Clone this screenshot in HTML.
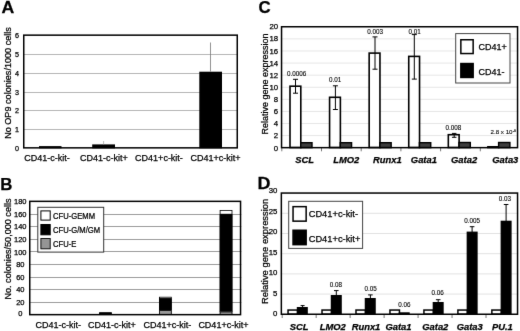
<!DOCTYPE html>
<html><head><meta charset="utf-8"><style>
html,body{margin:0;padding:0;background:#fff;}
svg{display:block;font-family:"Liberation Sans", sans-serif;}
text{stroke:#000;stroke-width:0.25px;}
</style></head><body>
<svg width="520" height="331" viewBox="0 0 520 331">
<defs><filter id="bl" color-interpolation-filters="sRGB" x="0" y="0" width="520" height="331" filterUnits="userSpaceOnUse"><feConvolveMatrix order="3" kernelMatrix="0.0049 0.0602 0.0049 0.0602 0.7396 0.0602 0.0049 0.0602 0.0049" edgeMode="duplicate"/></filter></defs>
<g filter="url(#bl)">
<rect x="0" y="0" width="520" height="331" fill="#fff"/>
<text transform="translate(1.6 13.0) scale(1.05 1)" font-size="16.8" font-weight="bold">A</text>
<line x1="23.0" y1="129.5" x2="238.0" y2="129.5" stroke="#b6b6b6" stroke-width="1"/>
<line x1="23.0" y1="110.5" x2="238.0" y2="110.5" stroke="#b6b6b6" stroke-width="1"/>
<line x1="23.0" y1="92.5" x2="238.0" y2="92.5" stroke="#b6b6b6" stroke-width="1"/>
<line x1="23.0" y1="73.5" x2="238.0" y2="73.5" stroke="#b6b6b6" stroke-width="1"/>
<line x1="23.0" y1="54.5" x2="238.0" y2="54.5" stroke="#b6b6b6" stroke-width="1"/>
<rect x="39.00" y="146.10" width="22.50" height="2.20" fill="#000"/>
<rect x="92.20" y="144.40" width="22.80" height="3.90" fill="#000"/>
<rect x="199.30" y="71.70" width="22.70" height="76.60" fill="#000"/>
<line x1="103.6" y1="141.0" x2="103.6" y2="144.4" stroke="#aaa" stroke-width="0.8"/>
<line x1="210.5" y1="42.5" x2="210.5" y2="71.7" stroke="#777" stroke-width="0.8"/>
<rect x="23.75" y="35.15" width="213.50" height="112.70" fill="none" stroke="#000" stroke-width="1.5"/>
<text x="19.0" y="150.9" font-size="7.2" text-anchor="end" fill="#000">0</text>
<text x="19.0" y="132.1" font-size="7.2" text-anchor="end" fill="#000">1</text>
<text x="19.0" y="113.30000000000001" font-size="7.2" text-anchor="end" fill="#000">2</text>
<text x="19.0" y="94.5" font-size="7.2" text-anchor="end" fill="#000">3</text>
<text x="19.0" y="75.7" font-size="7.2" text-anchor="end" fill="#000">4</text>
<text x="19.0" y="56.90000000000001" font-size="7.2" text-anchor="end" fill="#000">5</text>
<text x="19.0" y="38.1" font-size="7.2" text-anchor="end" fill="#000">6</text>
<text x="10.9" y="83" font-size="9.1" text-anchor="middle" fill="#000" transform="rotate(-90 10.9 83)">No OP9 colonies/1000 cells</text>
<text x="47" y="160.6" font-size="9.0" text-anchor="middle" fill="#000">CD41-c-kit-</text>
<text x="103.9" y="160.6" font-size="9.0" text-anchor="middle" fill="#000">CD41-c-kit+</text>
<text x="159" y="160.6" font-size="9.0" text-anchor="middle" fill="#000">CD41+c-kit-</text>
<text x="215.5" y="160.6" font-size="9.0" text-anchor="middle" fill="#000">CD41+c-kit+</text>
<text transform="translate(0.2 189.7) scale(1.0 1)" font-size="16.8" font-weight="bold">B</text>
<line x1="29.0" y1="302.5" x2="241.3" y2="302.5" stroke="#9c9c9c" stroke-width="1"/>
<line x1="29.0" y1="289.5" x2="241.3" y2="289.5" stroke="#9c9c9c" stroke-width="1"/>
<line x1="29.0" y1="277.5" x2="241.3" y2="277.5" stroke="#9c9c9c" stroke-width="1"/>
<line x1="29.0" y1="264.5" x2="241.3" y2="264.5" stroke="#9c9c9c" stroke-width="1"/>
<line x1="29.0" y1="251.5" x2="241.3" y2="251.5" stroke="#9c9c9c" stroke-width="1"/>
<line x1="29.0" y1="239.5" x2="241.3" y2="239.5" stroke="#9c9c9c" stroke-width="1"/>
<line x1="29.0" y1="226.5" x2="241.3" y2="226.5" stroke="#9c9c9c" stroke-width="1"/>
<line x1="29.0" y1="214.5" x2="241.3" y2="214.5" stroke="#9c9c9c" stroke-width="1"/>
<rect x="99.20" y="312.40" width="12.50" height="2.40" fill="#000"/>
<rect x="99.60" y="312.80" width="11.70" height="1.60" fill="none" stroke="#000" stroke-width="0.8"/>
<rect x="159.00" y="296.80" width="12.70" height="2.20" fill="#fff"/>
<rect x="159.40" y="297.20" width="11.90" height="1.40" fill="none" stroke="#000" stroke-width="0.8"/>
<rect x="159.00" y="298.60" width="12.70" height="12.00" fill="#000"/>
<rect x="159.40" y="299.00" width="11.90" height="11.20" fill="none" stroke="#000" stroke-width="0.8"/>
<rect x="159.00" y="310.20" width="12.70" height="4.60" fill="#999"/>
<rect x="159.40" y="310.60" width="11.90" height="3.80" fill="none" stroke="#000" stroke-width="0.8"/>
<rect x="219.70" y="210.10" width="12.70" height="4.50" fill="#fff"/>
<rect x="220.10" y="210.50" width="11.90" height="3.70" fill="none" stroke="#000" stroke-width="0.8"/>
<rect x="219.70" y="214.20" width="12.70" height="97.80" fill="#000"/>
<rect x="220.10" y="214.60" width="11.90" height="97.00" fill="none" stroke="#000" stroke-width="0.8"/>
<rect x="219.70" y="311.60" width="12.70" height="3.20" fill="#999"/>
<rect x="220.10" y="312.00" width="11.90" height="2.40" fill="none" stroke="#000" stroke-width="0.8"/>
<rect x="29.75" y="201.35" width="210.80" height="113.30" fill="none" stroke="#000" stroke-width="1.5"/>
<rect x="37.80" y="207.30" width="65.90" height="44.80" fill="#fff" stroke="#333" stroke-width="1.0"/>
<rect x="40.90" y="210.90" width="9.30" height="9.20" fill="#fff" stroke="#000" stroke-width="1.0"/>
<rect x="40.90" y="224.50" width="9.30" height="10.30" fill="#000" stroke="#000" stroke-width="1.0"/>
<rect x="40.90" y="238.50" width="9.30" height="10.30" fill="#959595" stroke="#111" stroke-width="1.0"/>
<text transform="translate(53.0 219.4) scale(0.9 1)" font-size="8.5">CFU-GEMM</text>
<text transform="translate(53.0 233.3) scale(0.9 1)" font-size="8.5">CFU-G/M/GM</text>
<text transform="translate(53.0 247.3) scale(0.9 1)" font-size="8.5">CFU-E</text>
<text x="20.3" y="316.2" font-size="7.5" text-anchor="middle" fill="#000">0</text>
<text x="20.3" y="304.9" font-size="7.5" text-anchor="middle" fill="#000">20</text>
<text x="20.3" y="292.3" font-size="7.5" text-anchor="middle" fill="#000">40</text>
<text x="20.3" y="279.7" font-size="7.5" text-anchor="middle" fill="#000">60</text>
<text x="20.3" y="267.1" font-size="7.5" text-anchor="middle" fill="#000">80</text>
<text x="20.3" y="254.5" font-size="7.5" text-anchor="middle" fill="#000">100</text>
<text x="20.3" y="241.9" font-size="7.5" text-anchor="middle" fill="#000">120</text>
<text x="20.3" y="229.3" font-size="7.5" text-anchor="middle" fill="#000">140</text>
<text x="20.3" y="216.7" font-size="7.5" text-anchor="middle" fill="#000">160</text>
<text x="20.3" y="204.1" font-size="7.5" text-anchor="middle" fill="#000">180</text>
<text x="11.1" y="249" font-size="9.1" text-anchor="middle" fill="#000" transform="rotate(-90 11.1 249)">No. colonies/50,000 cells</text>
<text x="58.3" y="327.9" font-size="9.0" text-anchor="middle" fill="#000">CD41-c-kit-</text>
<text x="112" y="327.9" font-size="9.0" text-anchor="middle" fill="#000">CD41-c-kit+</text>
<text x="167.3" y="327.9" font-size="9.0" text-anchor="middle" fill="#000">CD41+c-kit-</text>
<text x="223.4" y="327.9" font-size="9.0" text-anchor="middle" fill="#000">CD41+c-kit+</text>
<text transform="translate(258.6 13.3) scale(1.0 1)" font-size="16.8" font-weight="bold">C</text>
<line x1="280.8" y1="135.60999999999999" x2="518.3" y2="135.60999999999999" stroke="#e6e6e6" stroke-width="1"/>
<line x1="280.8" y1="123.51999999999998" x2="518.3" y2="123.51999999999998" stroke="#e6e6e6" stroke-width="1"/>
<line x1="280.8" y1="111.42999999999999" x2="518.3" y2="111.42999999999999" stroke="#e6e6e6" stroke-width="1"/>
<line x1="280.8" y1="99.33999999999999" x2="518.3" y2="99.33999999999999" stroke="#e6e6e6" stroke-width="1"/>
<line x1="280.8" y1="87.24999999999999" x2="518.3" y2="87.24999999999999" stroke="#e6e6e6" stroke-width="1"/>
<line x1="280.8" y1="75.16" x2="518.3" y2="75.16" stroke="#e6e6e6" stroke-width="1"/>
<line x1="280.8" y1="63.06999999999999" x2="518.3" y2="63.06999999999999" stroke="#e6e6e6" stroke-width="1"/>
<line x1="280.8" y1="50.97999999999999" x2="518.3" y2="50.97999999999999" stroke="#e6e6e6" stroke-width="1"/>
<line x1="280.8" y1="38.889999999999986" x2="518.3" y2="38.889999999999986" stroke="#e6e6e6" stroke-width="1"/>
<rect x="290.00" y="86.20" width="10.80" height="61.30" fill="#fff" stroke="#000" stroke-width="1.6"/>
<rect x="300.70" y="142.70" width="11.30" height="4.90" fill="#3d3d3d" stroke="#000" stroke-width="1.4"/>
<rect x="329.58" y="97.30" width="10.80" height="50.20" fill="#fff" stroke="#000" stroke-width="1.6"/>
<rect x="340.28" y="142.70" width="11.30" height="4.90" fill="#3d3d3d" stroke="#000" stroke-width="1.4"/>
<rect x="369.16" y="53.10" width="10.80" height="94.40" fill="#fff" stroke="#000" stroke-width="1.6"/>
<rect x="379.86" y="142.70" width="11.30" height="4.90" fill="#3d3d3d" stroke="#000" stroke-width="1.4"/>
<rect x="408.74" y="56.40" width="10.80" height="91.10" fill="#fff" stroke="#000" stroke-width="1.6"/>
<rect x="419.44" y="142.70" width="11.30" height="4.90" fill="#3d3d3d" stroke="#000" stroke-width="1.4"/>
<rect x="448.32" y="134.70" width="10.80" height="12.80" fill="#fff" stroke="#000" stroke-width="1.6"/>
<rect x="459.02" y="142.50" width="11.30" height="5.10" fill="#3d3d3d" stroke="#000" stroke-width="1.4"/>
<rect x="487.90" y="146.80" width="10.80" height="0.70" fill="#fff" stroke="#000" stroke-width="1.6"/>
<rect x="498.60" y="142.50" width="11.30" height="5.10" fill="#3d3d3d" stroke="#000" stroke-width="1.4"/>
<line x1="295.5" y1="79.3" x2="295.5" y2="93.2" stroke="#000" stroke-width="1"/>
<line x1="293.0" y1="79.3" x2="298.0" y2="79.3" stroke="#000" stroke-width="1"/>
<line x1="293.0" y1="93.2" x2="298.0" y2="93.2" stroke="#000" stroke-width="1"/>
<line x1="335.4" y1="85.8" x2="335.4" y2="109.5" stroke="#000" stroke-width="1"/>
<line x1="332.9" y1="85.8" x2="337.9" y2="85.8" stroke="#000" stroke-width="1"/>
<line x1="332.9" y1="109.5" x2="337.9" y2="109.5" stroke="#000" stroke-width="1"/>
<line x1="375.0" y1="36.9" x2="375.0" y2="69.2" stroke="#000" stroke-width="1"/>
<line x1="372.5" y1="36.9" x2="377.5" y2="36.9" stroke="#000" stroke-width="1"/>
<line x1="372.5" y1="69.2" x2="377.5" y2="69.2" stroke="#000" stroke-width="1"/>
<line x1="414.3" y1="34.6" x2="414.3" y2="79.1" stroke="#000" stroke-width="1"/>
<line x1="411.8" y1="34.6" x2="416.8" y2="34.6" stroke="#000" stroke-width="1"/>
<line x1="411.8" y1="79.1" x2="416.8" y2="79.1" stroke="#000" stroke-width="1"/>
<line x1="454.2" y1="133.4" x2="454.2" y2="137.3" stroke="#000" stroke-width="1"/>
<line x1="451.95" y1="133.4" x2="456.45" y2="133.4" stroke="#000" stroke-width="1"/>
<line x1="451.95" y1="137.3" x2="456.45" y2="137.3" stroke="#000" stroke-width="1"/>
<line x1="281.8" y1="147.7" x2="281.8" y2="151.3" stroke="#555" stroke-width="0.8"/>
<line x1="321.5" y1="147.7" x2="321.5" y2="151.3" stroke="#555" stroke-width="0.8"/>
<line x1="361.20000000000005" y1="147.7" x2="361.20000000000005" y2="151.3" stroke="#555" stroke-width="0.8"/>
<line x1="400.90000000000003" y1="147.7" x2="400.90000000000003" y2="151.3" stroke="#555" stroke-width="0.8"/>
<line x1="440.6" y1="147.7" x2="440.6" y2="151.3" stroke="#555" stroke-width="0.8"/>
<line x1="480.3" y1="147.7" x2="480.3" y2="151.3" stroke="#555" stroke-width="0.8"/>
<rect x="281.55" y="26.75" width="236.00" height="120.90" fill="none" stroke="#000" stroke-width="1.5"/>
<text x="286.90000000000003" y="75.8" font-size="6.3" text-anchor="start" fill="#000" style="stroke-width:0.1px">0.0006</text>
<text x="328.90000000000003" y="82.0" font-size="6.3" text-anchor="start" fill="#000" style="stroke-width:0.1px">0.01</text>
<text x="367.20000000000005" y="33.7" font-size="6.3" text-anchor="start" fill="#000" style="stroke-width:0.1px">0.003</text>
<text x="408.40000000000003" y="33.7" font-size="6.3" text-anchor="start" fill="#000" style="stroke-width:0.1px">0.01</text>
<text x="445.5" y="129.6" font-size="6.3" text-anchor="start" fill="#000" style="stroke-width:0.1px">0.008</text>
<text x="490.5" y="133.7" font-size="6.2" style="stroke-width:0.1px">2.8 x 10<tspan font-size="3.8" dx="0.2" dy="-1.9">-6</tspan></text>
<text x="278.2" y="150.6" font-size="7.8" text-anchor="end" fill="#000">0</text>
<text x="278.2" y="138.47" font-size="7.8" text-anchor="end" fill="#000">2</text>
<text x="278.2" y="126.33999999999999" font-size="7.8" text-anchor="end" fill="#000">4</text>
<text x="278.2" y="114.21" font-size="7.8" text-anchor="end" fill="#000">6</text>
<text x="278.2" y="102.07999999999998" font-size="7.8" text-anchor="end" fill="#000">8</text>
<text x="278.2" y="89.94999999999999" font-size="7.8" text-anchor="end" fill="#000">10</text>
<text x="278.2" y="77.82" font-size="7.8" text-anchor="end" fill="#000">12</text>
<text x="278.2" y="65.68999999999998" font-size="7.8" text-anchor="end" fill="#000">14</text>
<text x="278.2" y="53.55999999999998" font-size="7.8" text-anchor="end" fill="#000">16</text>
<text x="278.2" y="41.429999999999986" font-size="7.8" text-anchor="end" fill="#000">18</text>
<text x="278.2" y="29.299999999999976" font-size="7.8" text-anchor="end" fill="#000">20</text>
<text x="268.0" y="84.0" font-size="9.0" text-anchor="middle" fill="#000" transform="rotate(-90 268.0 84.0)">Relative gene expression</text>
<text x="304.6" y="162.9" font-size="9.4" text-anchor="middle" font-weight="bold" font-style="italic" fill="#000">SCL</text>
<text x="346.3" y="162.9" font-size="9.4" text-anchor="middle" font-weight="bold" font-style="italic" fill="#000">LMO2</text>
<text x="387.3" y="162.9" font-size="9.4" text-anchor="middle" font-weight="bold" font-style="italic" fill="#000">Runx1</text>
<text x="423.90000000000003" y="162.9" font-size="9.4" text-anchor="middle" font-weight="bold" font-style="italic" fill="#000">Gata1</text>
<text x="464.1" y="162.9" font-size="9.4" text-anchor="middle" font-weight="bold" font-style="italic" fill="#000">Gata2</text>
<text x="505.3" y="162.9" font-size="9.4" text-anchor="middle" font-weight="bold" font-style="italic" fill="#000">Gata3</text>
<rect x="455.70" y="33.60" width="54.30" height="49.40" fill="#fff" stroke="#444" stroke-width="1.0"/>
<rect x="460.85" y="39.75" width="12.30" height="13.80" fill="#fff" stroke="#000" stroke-width="1.5"/>
<rect x="460.85" y="63.55" width="12.30" height="13.90" fill="#000" stroke="#000" stroke-width="1.5"/>
<text x="478.5" y="50.1" font-size="9.0" text-anchor="start" fill="#000">CD41+</text>
<text x="478.5" y="74.7" font-size="9.0" text-anchor="start" fill="#000">CD41-</text>
<text transform="translate(257.6 188.6) scale(1.07 1)" font-size="16.8" font-weight="bold">D</text>
<line x1="280.6" y1="294.1" x2="518.3" y2="294.1" stroke="#e2e2e2" stroke-width="1"/>
<line x1="280.6" y1="273.9" x2="518.3" y2="273.9" stroke="#e2e2e2" stroke-width="1"/>
<line x1="280.6" y1="253.7" x2="518.3" y2="253.7" stroke="#e2e2e2" stroke-width="1"/>
<line x1="280.6" y1="233.5" x2="518.3" y2="233.5" stroke="#e2e2e2" stroke-width="1"/>
<line x1="280.6" y1="213.29999999999998" x2="518.3" y2="213.29999999999998" stroke="#e2e2e2" stroke-width="1"/>
<rect x="288.05" y="310.05" width="9.50" height="4.10" fill="#fff" stroke="#000" stroke-width="1.5"/>
<rect x="297.45" y="307.65" width="9.70" height="6.60" fill="#000" stroke="#000" stroke-width="1.3"/>
<rect x="322.02" y="310.05" width="9.50" height="4.10" fill="#fff" stroke="#000" stroke-width="1.5"/>
<rect x="331.42" y="295.65" width="9.70" height="18.60" fill="#000" stroke="#000" stroke-width="1.3"/>
<rect x="355.99" y="310.05" width="9.50" height="4.10" fill="#fff" stroke="#000" stroke-width="1.5"/>
<rect x="365.39" y="298.65" width="9.70" height="15.60" fill="#000" stroke="#000" stroke-width="1.3"/>
<rect x="389.96" y="310.05" width="9.50" height="4.10" fill="#fff" stroke="#000" stroke-width="1.5"/>
<rect x="399.36" y="312.95" width="9.70" height="1.30" fill="#000" stroke="#000" stroke-width="1.3"/>
<rect x="423.93" y="310.05" width="9.50" height="4.10" fill="#fff" stroke="#000" stroke-width="1.5"/>
<rect x="433.33" y="302.65" width="9.70" height="11.60" fill="#000" stroke="#000" stroke-width="1.3"/>
<rect x="457.90" y="310.05" width="9.50" height="4.10" fill="#fff" stroke="#000" stroke-width="1.5"/>
<rect x="467.30" y="232.25" width="9.70" height="82.00" fill="#000" stroke="#000" stroke-width="1.3"/>
<rect x="491.87" y="310.05" width="9.50" height="4.10" fill="#fff" stroke="#000" stroke-width="1.5"/>
<rect x="501.27" y="221.35" width="9.70" height="92.90" fill="#000" stroke="#000" stroke-width="1.3"/>
<line x1="302.6" y1="305.6" x2="302.6" y2="307.5" stroke="#000" stroke-width="1"/>
<line x1="300.6" y1="305.6" x2="304.6" y2="305.6" stroke="#000" stroke-width="1"/>
<line x1="336.3" y1="290.6" x2="336.3" y2="295.5" stroke="#000" stroke-width="1"/>
<line x1="334.0" y1="290.6" x2="338.6" y2="290.6" stroke="#000" stroke-width="1"/>
<line x1="370.4" y1="294.9" x2="370.4" y2="298.5" stroke="#000" stroke-width="1"/>
<line x1="368.09999999999997" y1="294.9" x2="372.7" y2="294.9" stroke="#000" stroke-width="1"/>
<line x1="438.2" y1="299.7" x2="438.2" y2="302.5" stroke="#000" stroke-width="1"/>
<line x1="435.9" y1="299.7" x2="440.5" y2="299.7" stroke="#000" stroke-width="1"/>
<line x1="472.1" y1="226.7" x2="472.1" y2="232" stroke="#000" stroke-width="1"/>
<line x1="469.8" y1="226.7" x2="474.40000000000003" y2="226.7" stroke="#000" stroke-width="1"/>
<line x1="506.1" y1="204.5" x2="506.1" y2="221" stroke="#000" stroke-width="1"/>
<line x1="503.8" y1="204.5" x2="508.40000000000003" y2="204.5" stroke="#000" stroke-width="1"/>
<line x1="282.2" y1="314.3" x2="282.2" y2="318.0" stroke="#555" stroke-width="0.8"/>
<line x1="316.16999999999996" y1="314.3" x2="316.16999999999996" y2="318.0" stroke="#555" stroke-width="0.8"/>
<line x1="350.14" y1="314.3" x2="350.14" y2="318.0" stroke="#555" stroke-width="0.8"/>
<line x1="384.11" y1="314.3" x2="384.11" y2="318.0" stroke="#555" stroke-width="0.8"/>
<line x1="418.08" y1="314.3" x2="418.08" y2="318.0" stroke="#555" stroke-width="0.8"/>
<line x1="452.04999999999995" y1="314.3" x2="452.04999999999995" y2="318.0" stroke="#555" stroke-width="0.8"/>
<line x1="486.02" y1="314.3" x2="486.02" y2="318.0" stroke="#555" stroke-width="0.8"/>
<rect x="281.35" y="193.05" width="236.20" height="121.20" fill="none" stroke="#000" stroke-width="1.5"/>
<text x="329.8" y="287.1" font-size="6.3" text-anchor="start" fill="#000" style="stroke-width:0.1px">0.08</text>
<text x="364.5" y="290.6" font-size="6.3" text-anchor="start" fill="#000" style="stroke-width:0.1px">0.05</text>
<text x="398.20000000000005" y="307.1" font-size="6.3" text-anchor="start" fill="#000" style="stroke-width:0.1px">0.06</text>
<text x="431.5" y="295.1" font-size="6.3" text-anchor="start" fill="#000" style="stroke-width:0.1px">0.06</text>
<text x="464.3" y="222.7" font-size="6.3" text-anchor="start" fill="#000" style="stroke-width:0.1px">0.005</text>
<text x="498.8" y="201.0" font-size="6.3" text-anchor="start" fill="#000" style="stroke-width:0.1px">0.03</text>
<text x="277.4" y="316.1" font-size="7.8" text-anchor="end" fill="#000">0</text>
<text x="277.4" y="295.66" font-size="7.8" text-anchor="end" fill="#000">5</text>
<text x="277.4" y="275.22" font-size="7.8" text-anchor="end" fill="#000">10</text>
<text x="277.4" y="254.78000000000003" font-size="7.8" text-anchor="end" fill="#000">15</text>
<text x="277.4" y="234.34000000000003" font-size="7.8" text-anchor="end" fill="#000">20</text>
<text x="277.4" y="213.90000000000003" font-size="7.8" text-anchor="end" fill="#000">25</text>
<text x="277.4" y="193.46" font-size="7.8" text-anchor="end" fill="#000">30</text>
<text x="268.0" y="251.4" font-size="9.4" text-anchor="middle" fill="#000" transform="rotate(-90 268.0 251.4)">Relative gene expression</text>
<text x="299.09999999999997" y="329.8" font-size="9.4" text-anchor="middle" font-weight="bold" font-style="italic" fill="#000">SCL</text>
<text x="332.8" y="329.8" font-size="9.4" text-anchor="middle" font-weight="bold" font-style="italic" fill="#000">LMO2</text>
<text x="366.0" y="329.8" font-size="9.4" text-anchor="middle" font-weight="bold" font-style="italic" fill="#000">Runx1</text>
<text x="398.5" y="329.8" font-size="9.4" text-anchor="middle" font-weight="bold" font-style="italic" fill="#000">Gata1</text>
<text x="435.3" y="329.8" font-size="9.4" text-anchor="middle" font-weight="bold" font-style="italic" fill="#000">Gata2</text>
<text x="469.7" y="329.8" font-size="9.4" text-anchor="middle" font-weight="bold" font-style="italic" fill="#000">Gata3</text>
<text x="502.3" y="329.8" font-size="9.4" text-anchor="middle" font-weight="bold" font-style="italic" fill="#000">PU.1</text>
<rect x="288.70" y="201.30" width="73.90" height="47.10" fill="#fff" stroke="#444" stroke-width="1.0"/>
<rect x="293.05" y="206.65" width="13.10" height="14.50" fill="#fff" stroke="#000" stroke-width="1.5"/>
<rect x="293.05" y="230.25" width="13.10" height="14.40" fill="#000" stroke="#000" stroke-width="1.5"/>
<text x="308.7" y="217.3" font-size="9.3" text-anchor="start" fill="#000">CD41+c-kit-</text>
<text x="308.7" y="241.6" font-size="9.3" text-anchor="start" fill="#000">CD41+c-kit+</text>
</g>
</svg>
</body></html>
